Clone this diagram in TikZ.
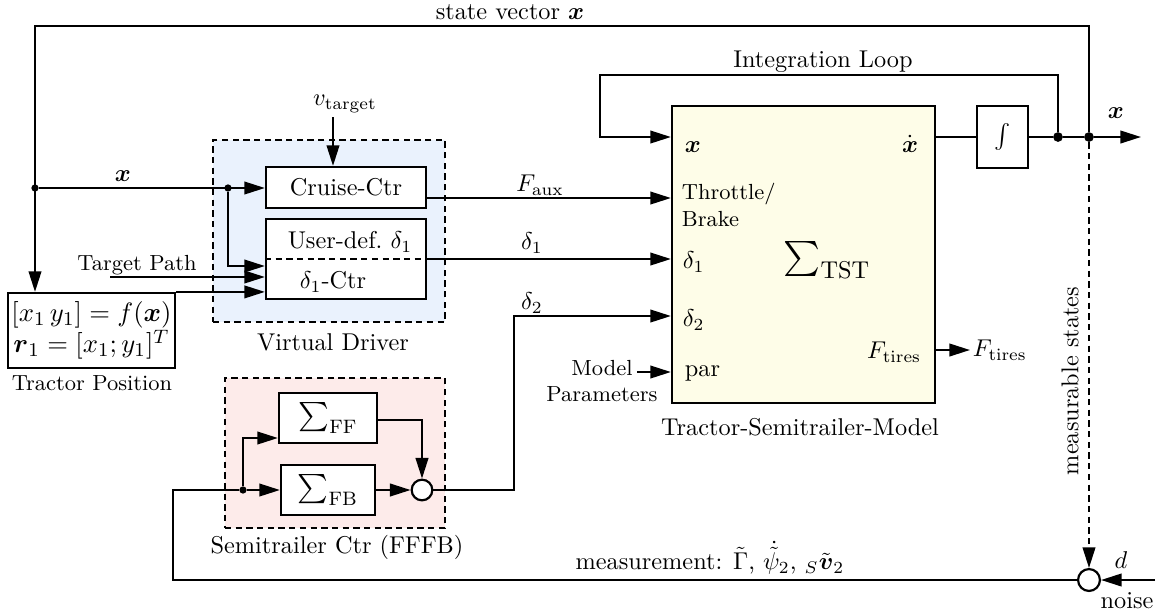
\documentclass[tikz,border=0pt]{standalone}
\usepackage{amsmath}
\usetikzlibrary{arrows.meta,calc}
\definecolor{vdblue}{HTML}{EAF2FD}
\definecolor{stpink}{HTML}{FDEBEA}
\definecolor{mdyellow}{HTML}{FEFDE8}
\def\pxu{0.4115pt}
\begin{document}
\begin{tikzpicture}[x=0.4115pt,y=-0.4115pt,
  every node/.style={inner sep=1pt},
  ln/.style={line width=0.85pt},
  arr/.style={ln,-{Triangle[length=8.5pt,width=5.2pt]}},
  blk/.style={draw,line width=0.9pt,fill=white,inner sep=0pt,align=center},
  grp/.style={draw,line width=0.8pt,dash pattern=on 2.6pt off 1.8pt,inner sep=0pt},
  sdot/.style={circle,fill,inner sep=0pt,minimum size=3pt},
  bdot/.style={circle,fill,inner sep=0pt,minimum size=4pt},
  sumc/.style={circle,draw,line width=0.9pt,fill=white,inner sep=0pt,minimum size=8.5pt},
  sml/.style={font=\small,inner sep=1pt}]
\useasboundingbox (0,0) rectangle (1163,614);
% groups
\node[grp,fill=vdblue,minimum width=232*\pxu,minimum height=182*\pxu] (vd) at (329,231) {};
\node (vdl) at (333,342) {Virtual Driver};
\node[grp,fill=stpink,minimum width=220*\pxu,minimum height=150*\pxu] (st) at (335,453) {};
\node (stl) at (337,547) {Semitrailer Ctr (FFFB)};
% blocks
\node[blk,minimum width=167*\pxu,minimum height=75*\pxu,font=\fontsize{11.2}{13}\selectfont] (tp) at (91.5,330.5)
  {$[x_1\,y_1]=f(\boldsymbol{x})$\\$\boldsymbol{r}_1=[x_1;y_1]^T$};
\node[sml] (tpl) at (92,383) {Tractor Position};
\node[blk,minimum width=160*\pxu,minimum height=41*\pxu] (cc) at (346,187.5) {Cruise-Ctr};
\node[blk,minimum width=160*\pxu,minimum height=80*\pxu] (dc) at (346,259) {};
\draw[ln,dash pattern=on 2.6pt off 1.8pt] (dc.west) -- (dc.east);
\node (ud) at (350,242) {User-def.\ $\delta_1$};
\node (dctr) at (333,282) {$\delta_1$-Ctr};
\node (vt) at (345,104) {$v_{\mathrm{target}}$};
\node[blk,fill=mdyellow,minimum width=263*\pxu,minimum height=297*\pxu] (model) at (803.5,254.5) {};
\node (mdl) at (800,427) {Tractor-Semitrailer-Model};
\node[anchor=west] (mx) at (682,147) {$\boldsymbol{x}$};
\node[anchor=east] (mxd) at (921,144) {$\dot{\boldsymbol{x}}$};
\node[sml,anchor=west,align=left] (thr) at (679,205) {Throttle/\\Brake};
\node[anchor=west] (md1) at (680,262) {$\delta_1$};
\node[anchor=west] (md2) at (680,320) {$\delta_2$};
\node[anchor=west] (mpar) at (682,373) {par};
\node[anchor=east] (mft) at (924,352) {$F_{\mathrm{tires}}$};
\node[font=\Large] (tst) at (827,260) {$\sum_{\mathrm{TST}}$};
\node[blk,minimum width=51*\pxu,minimum height=62*\pxu] (integ) at (1002.5,137) {$\int$};
\node[blk,minimum width=98*\pxu,minimum height=50*\pxu,font=\large] (ff) at (328,418) {$\sum_{\mathrm{FF}}$};
\node[blk,minimum width=94*\pxu,minimum height=50*\pxu,font=\large] (fb) at (328,490) {$\sum_{\mathrm{FB}}$};
\node[sumc] (s1) at (422,490) {};
\node[sumc,minimum size=9pt] (s2) at (1089,580) {};
% dots
\node[sdot] (d1) at (35,188) {};
\node[sdot] (d2) at (228,188) {};
\node[bdot] (d3) at (1058,137) {};
\node[bdot] (d4) at (1089,137) {};
\node[sdot] (d5) at (243,490) {};
% coordinates
\coordinate (tl) at (35,26);
\coordinate (vts) at (333,117);
\coordinate (tpath) at (110,277);
\coordinate (lp) at (600,75);
\coordinate (xout) at (1141,137);
\coordinate (mpa) at (637,372);
\coordinate (nz) at (1155,580);
\coordinate (ml) at (173,490);
% labels
\node (svl) at (510,12) {state vector $\boldsymbol{x}$};
\node (xl) at (123,176) {$\boldsymbol{x}$};
\node[sml] (tpathl) at (137,265) {Target Path};
\node (fauxl) at (540,185) {$F_{\mathrm{aux}}$};
\node (d1l) at (532,243) {$\delta_1$};
\node (d2l) at (532,303) {$\delta_2$};
\node (ill) at (823,62) {Integration Loop};
\node (xol) at (1116,113) {$\boldsymbol{x}$};
\node[anchor=west] (ftl) at (970,350) {$F_{\mathrm{tires}}$};
\node[sml,align=center] (mp) at (602,381) {Model\\Parameters};
\node[rotate=90] (ms) at (1070,381) {measurable states};
\node (dl) at (1121,560) {$d$};
\node (nl) at (1127,601) {noise};
\node (meas) at (710,558) {measurement: $\tilde{\Gamma}$, $\dot{\tilde{\psi}}_2$, ${}_S\tilde{\boldsymbol{v}}_2$};
% connectors
\draw[arr] (d4) |- (tl) -- (tl |- tp.north);
\draw[arr] (d1) -- (d1 -| cc.west);
\draw[arr] (d2) |- ($(dc.west)+(0,7)$);
\draw[arr] (tpath) -- (tpath -| dc.west);
\draw[arr] (tp.north east) -- (tp.north east -| dc.west);
\draw[arr] (vts) -- (vts |- cc.north);
\draw[arr] ($(cc.east)+(0,10.5)$) -- ($(cc.east -| model.west)+(0,10.5)$);
\draw[arr] (dc.east) -- (dc.east -| model.west);
\draw[arr] (s1.east) -- (514,490) |- (model.west |- 0,316);
\draw[arr] (d3) |- (lp) |- (model.west |- d3);
\draw[ln] (model.east |- integ) -- (integ.west);
\draw[ln] (integ.east) -- (d3) -- (d4);
\draw[arr] (d4) -- (xout);
\draw[arr] (model.east |- ftl.west) -- (ftl.west);
\draw[arr] (mpa) -- (mpa -| model.west);
\draw[arr,dash pattern=on 2.6pt off 1.8pt] (d4) -- (s2.north);
\draw[arr] (nz) -- (s2.east);
\draw[ln] (s2.west) -| (ml) -- (d5);
\draw[arr] (d5) -- (fb.west);
\draw[arr] (d5) |- ($(ff.west)+(0,20)$);
\draw[arr] ($(ff.east)+(0,2)$) -| (s1.north);
\draw[arr] (fb.east) -- (s1.west);
\end{tikzpicture}
\end{document}
